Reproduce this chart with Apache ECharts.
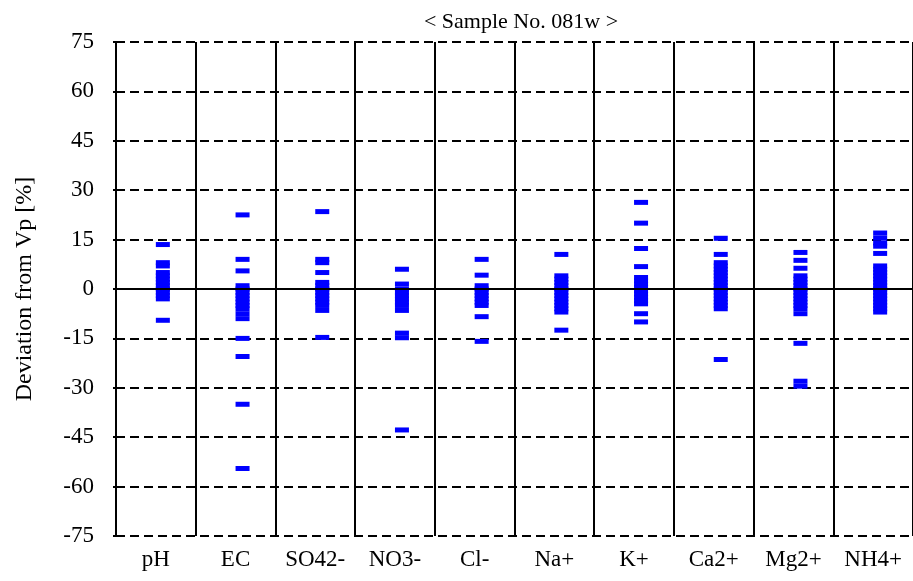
<!DOCTYPE html>
<html>
<head>
<meta charset="utf-8">
<script src="https://cdn.jsdelivr.net/npm/echarts@6/dist/echarts.min.js"></script>
<style>
  html, body { margin: 0; padding: 0; background: #fff; }
  #chart { width: 913px; height: 581px; }
</style>
</head>
<body>
<div id="chart"></div>
<script>
  // categories and deviation values (%)
  var categories = ['pH', 'EC', 'SO42-', 'NO3-', 'Cl-', 'Na+', 'K+', 'Ca2+', 'Mg2+', 'NH4+'];
  var yTicks = [-75, -60, -45, -30, -15, 0, 15, 30, 45, 60, 75];

  var pH = [13.5, 8, 7, 5, 4, 3, 2, 1, 0, -1, -2, -3, -9.5];
  var EC = [22.5, 9, 5.5, 1, 0, -1, -2, -3, -4, -5, -6, -7.5, -9, -15, -20.5, -35, -54.5];
  var SO4 = [23.5, 9, 8, 5, 2, 1, 0, -1, -2, -3, -4, -5, -6.5, -14.7];
  var NO3 = [6, 1.5, 0, -1, -2, -3, -4, -5, -6.5, -13.4, -14.8, -42.8];
  var Cl = [9, 4.2, 1, 0, -1, -2, -3, -4, -5, -8.4, -15.9];
  var Na = [10.5, 4, 3, 2, 1, 0, -1, -2, -3, -4, -5, -6, -7, -12.5];
  var K = [26.3, 20, 12.3, 6.8, 3.5, 2.5, 1.5, 0.5, -0.5, -1.5, -2.5, -3.5, -4.5, -7.5, -10];
  var Ca = [15.4, 10.5, 8, 7, 6, 5, 4, 3, 2, 1, 0, -1, -2, -3, -4, -5, -6, -21.4];
  var Mg = [11.1, 8.7, 6.3, 4, 3, 2, 1, 0, -1, -2, -3, -4, -5, -6, -7.5, -16.5, -28, -29.5];
  var NH4 = [17, 15.5, 14, 13, 10.8, 7, 6, 5, 4, 3, 2, 1, 0, -1, -2, -3, -4, -5, -6, -7];

  var values = [pH, EC, SO4, NO3, Cl, Na, K, Ca, Mg, NH4];

  var points = [];
  values.forEach(function (list, i) {
    list.forEach(function (v) {
      points.push([categories[i], v]);
    });
  });

  var font = '"Liberation Serif", "Times New Roman", serif';

  var chart = echarts.init(document.getElementById('chart'));
  chart.setOption({
    animation: false,
    title: {
      text: '< Sample No. 081w >',
      left: 516,
      textAlign: 'center',
      top: 6,
      textStyle: { fontFamily: font, fontSize: 22, fontWeight: 'normal', color: '#000' }
    },
    grid: { left: 116, right: -3, top: 42, bottom: 45 },
    xAxis: {
      type: 'category',
      data: categories,
      boundaryGap: true,
      axisLine: { show: false },
      axisTick: { show: false },
      axisLabel: { fontFamily: font, fontSize: 23, color: '#000', margin: 12 },
      splitLine: { show: true, interval: 0, lineStyle: { color: '#000', width: 2, type: 'solid' } }
    },
    yAxis: {
      type: 'value',
      min: yTicks[0],
      max: yTicks[yTicks.length - 1],
      interval: 15,
      name: 'Deviation from Vp [%]',
      nameLocation: 'middle',
      nameGap: 79,
      nameTextStyle: { fontFamily: font, fontSize: 24, color: '#000' },
      axisLine: { show: true, lineStyle: { color: '#000', width: 2 } },
      axisTick: { show: true, length: 3, lineStyle: { color: '#000', width: 2 } },
      axisLabel: { fontFamily: font, fontSize: 23, color: '#000', margin: 22 },
      splitLine: { show: true, lineStyle: { color: '#000', width: 2, type: [9, 5] } }
    },
    series: [{
      type: 'scatter',
      data: points,
      symbol: 'rect',
      symbolSize: [14, 5],
      symbolOffset: [7, 0],
      itemStyle: { color: '#0000ff', opacity: 1, borderWidth: 0 },
      markLine: {
        silent: true,
        symbol: 'none',
        label: { show: false },
        lineStyle: { color: '#000', width: 2, type: 'solid' },
        data: [{ yAxis: 0 }]
      }
    }]
  });
</script>
</body>
</html>
